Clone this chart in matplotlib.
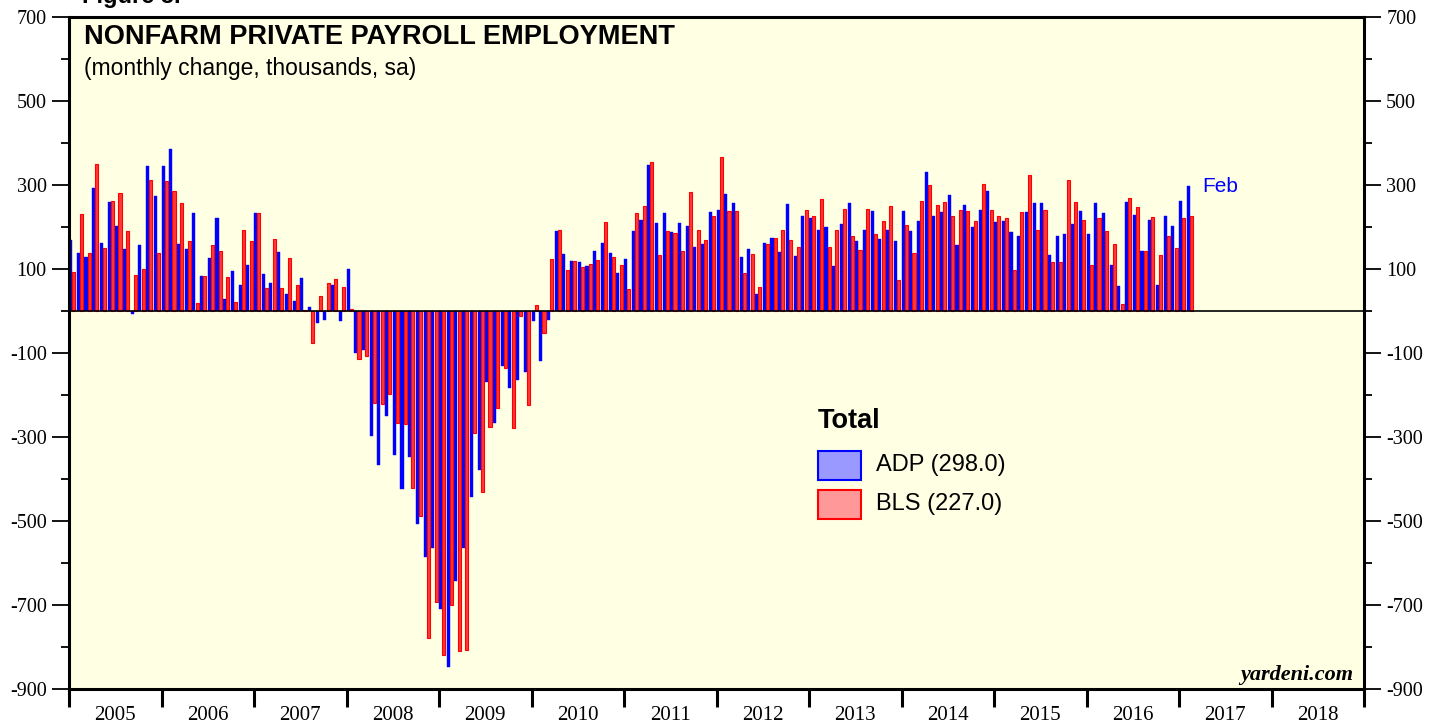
import numpy as np
import matplotlib
matplotlib.use("Agg")
import matplotlib.pyplot as plt
from matplotlib.patches import Rectangle
from matplotlib.ticker import MultipleLocator, FixedLocator, NullFormatter

# ---------------- data (monthly change, thousands, Jan 2005 - Feb 2017) ----------------
adp = [
    168, 137, 129, 292, 162, 259, 202, 148, -8, 156, 345, 274,          # 2005
    345, 385, 159, 147, 233, 84, 126, 221, 29, 96, 63, 109,            # 2006
    233, 87, 66, 141, 40, 23, 78, 9, -29, -22, 63, -23,                # 2007
    100, -99, -94, -297, -366, -250, -343, -424, -348, -506, -585, -565,  # 2008
    -710, -848, -642, -564, -444, -379, -170, -266, -131, -183, -165, -145,  # 2009
    -23, -118, -21, 190, 135, 119, 117, 107, 144, 161, 137, 91,        # 2010
    123, 191, 216, 348, 209, 233, 188, 209, 203, 152, 159, 235,        # 2011
    240, 278, 257, 129, 148, 40, 163, 174, 141, 254, 130, 225,         # 2012
    222, 193, 199, 107, 206, 256, 166, 194, 237, 171, 193, 166,        # 2013
    237, 191, 214, 330, 225, 235, 275, 156, 252, 201, 241, 285,        # 2014
    213, 214, 187, 179, 235, 256, 256, 133, 179, 184, 207, 238,        # 2015
    184, 256, 233, 109, 59, 259, 229, 142, 217, 62, 226, 202,          # 2016
    262, 298,                                                          # 2017
]
bls = [
    94, 230, 139, 350, 150, 263, 280, 190, 85, 100, 311, 137,          # 2005
    310, 285, 257, 167, 18, 83, 156, 144, 82, 21, 194, 166,            # 2006
    233, 54, 172, 54, 125, 61, 2, -76, 36, 66, 77, 56,                 # 2007
    5, -114, -106, -219, -221, -198, -266, -268, -422, -488, -779, -692,  # 2008
    -819, -701, -809, -806, -290, -432, -276, -230, -135, -278, -12, -225,  # 2009
    14, -53, 123, 193, 98, 119, 104, 113, 121, 213, 129, 109,          # 2010
    52, 233, 249, 354, 133, 190, 185, 142, 283, 194, 168, 225,         # 2011
    366, 237, 237, 90, 135, 58, 160, 174, 194, 168, 152, 240,          # 2012
    225, 267, 152, 194, 242, 179, 146, 242, 184, 214, 250, 73,         # 2013
    204, 139, 262, 299, 252, 259, 225, 240, 237, 214, 302, 240,        # 2014
    227, 222, 97, 235, 324, 194, 240, 116, 116, 313, 260, 217,         # 2015
    110, 221, 190, 159, 17, 269, 248, 144, 223, 133, 179, 151,         # 2016
    221, 227,                                                          # 2017
]
years = [str(y) for y in range(2005, 2019)]
y_ticks = [-900, -700, -500, -300, -100, 100, 300, 500, 700]
title = "NONFARM PRIVATE PAYROLL EMPLOYMENT"
subtitle = "(monthly change, thousands, sa)"
legend_title = "Total"
legend_labels = ["ADP (298.0)", "BLS (227.0)"]

# ---------------- figure ----------------
W, H = 1442, 723
fig = plt.figure(figsize=(W / 100, H / 100), dpi=100)
fig.patch.set_facecolor("white")

def fx(px):
    return px / W

def fy(py):
    return 1 - py / H

left, right, top, bottom = 69, 1364, 17, 689
ax = fig.add_axes([fx(left), fy(bottom), fx(right - left), (bottom - top) / H])
ax.set_facecolor("#FFFFE4")

SERIF = "Liberation Serif"
SANS = "Liberation Sans"

n_months = len(years) * 12
idx = np.arange(len(adp))
ax.bar(idx + 0.2, adp, width=0.40, color="#0000FF", edgecolor="#0000FF",
       linewidth=0.3, zorder=2)
ax.bar(idx + 0.62, bls, width=0.40, color="#FF3838", edgecolor="#FF0000",
       linewidth=0.8, zorder=2)

ax.axhline(0, color="black", linewidth=1.2, zorder=3)

ax.set_xlim(0, n_months)
ax.set_ylim(-900, 700)

# y axis: both sides
ax.yaxis.set_major_locator(FixedLocator(y_ticks))
ax.yaxis.set_minor_locator(MultipleLocator(100))
ax.tick_params(axis="y", which="major", direction="out", length=12, width=1.3,
               left=True, right=True, labelleft=True, labelright=True,
               labelsize=14.5, pad=4)
ax.tick_params(axis="y", which="minor", direction="out", length=6, width=1.3,
               left=True, right=True)
ax.set_yticklabels([str(v) for v in y_ticks])
for lab in ax.get_yticklabels():
    lab.set_fontfamily(SERIF)

# x axis: year boundaries as ticks, year labels centered
ax.xaxis.set_major_locator(FixedLocator(np.arange(0, n_months + 1, 12)))
ax.xaxis.set_major_formatter(NullFormatter())
ax.xaxis.set_minor_locator(FixedLocator(np.arange(6, n_months, 12)))
ax.set_xticklabels(years, minor=True)
ax.tick_params(axis="x", which="major", direction="out", length=13, width=2.2)
ax.tick_params(axis="x", which="minor", length=0, labelsize=15, pad=12)
for lab in ax.get_xticklabels(minor=True):
    lab.set_fontfamily(SERIF)

for s in ax.spines.values():
    s.set_linewidth(2.2)
    s.set_color("black")

# titles
fig.text(fx(84), fy(37), title, fontsize=19.5, fontweight="bold",
         family=SANS, va="center", ha="left")
fig.text(fx(84), fy(68), subtitle, fontsize=16.5, family=SANS,
         va="center", ha="left")
fig.text(fx(82), fy(3), "Figure 5.", fontsize=17, fontweight="bold",
         family=SANS, va="baseline", ha="left")

# Feb label
fig.text(fx(1202), fy(187), "Feb", fontsize=15, family=SANS, color="#0000FF",
         va="center", ha="left")

# legend
fig.text(fx(818), fy(421), legend_title, fontsize=19.5, fontweight="bold",
         family=SANS, va="center", ha="left")
for i, (lab, fc, ec) in enumerate(zip(legend_labels,
                                      ["#9999FF", "#FF9999"],
                                      ["#0000FF", "#FF0000"])):
    ytop = 451 + i * 39
    fig.add_artist(Rectangle((fx(818), fy(ytop + 29)), fx(43), 29 / H,
                             facecolor=fc, edgecolor=ec, linewidth=1.5,
                             transform=fig.transFigure))
    fig.text(fx(876), fy(ytop + 14), lab, fontsize=17, family=SANS,
             va="center", ha="left")

# watermark
fig.text(fx(1353), fy(680), "yardeni.com", fontsize=16, fontweight="bold",
         fontstyle="italic", family=SERIF, ha="right", va="baseline")

fig.savefig("out.png", dpi=100, facecolor="white")
